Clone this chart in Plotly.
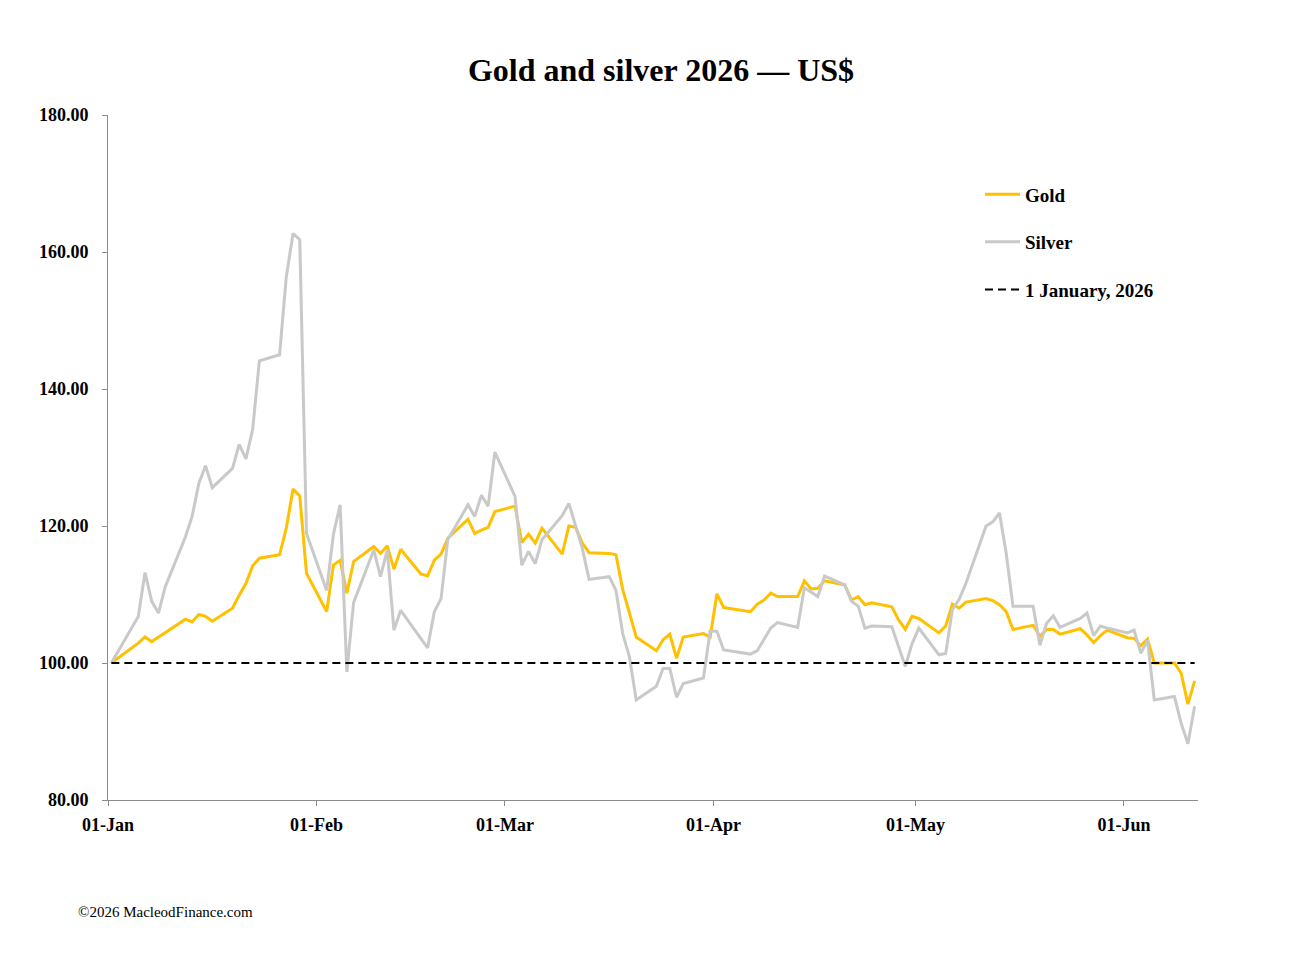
import plotly.graph_objects as go

FONT = "Liberation Serif"

dates = [
    "2026-01-01", "2026-01-05", "2026-01-06", "2026-01-07", "2026-01-08", "2026-01-09",
    "2026-01-12", "2026-01-13", "2026-01-14", "2026-01-15", "2026-01-16",
    "2026-01-19", "2026-01-20", "2026-01-21", "2026-01-22", "2026-01-23",
    "2026-01-26", "2026-01-27", "2026-01-28", "2026-01-29", "2026-01-30",
    "2026-02-02", "2026-02-03", "2026-02-04", "2026-02-05", "2026-02-06",
    "2026-02-09", "2026-02-10", "2026-02-11", "2026-02-12", "2026-02-13",
    "2026-02-16", "2026-02-17", "2026-02-18", "2026-02-19", "2026-02-20",
    "2026-02-23", "2026-02-24", "2026-02-25", "2026-02-26", "2026-02-27",
    "2026-03-02", "2026-03-03", "2026-03-04", "2026-03-05", "2026-03-06",
    "2026-03-09", "2026-03-10", "2026-03-11", "2026-03-12", "2026-03-13",
    "2026-03-16", "2026-03-17", "2026-03-18", "2026-03-19", "2026-03-20",
    "2026-03-23", "2026-03-24", "2026-03-25", "2026-03-26", "2026-03-27",
    "2026-03-30", "2026-03-31",
    "2026-04-01", "2026-04-02",
    "2026-04-06", "2026-04-07", "2026-04-08", "2026-04-09", "2026-04-10",
    "2026-04-13", "2026-04-14", "2026-04-15", "2026-04-16", "2026-04-17",
    "2026-04-20", "2026-04-21", "2026-04-22", "2026-04-23", "2026-04-24",
    "2026-04-27", "2026-04-28", "2026-04-29", "2026-04-30",
    "2026-05-01",
    "2026-05-04", "2026-05-05", "2026-05-06", "2026-05-07", "2026-05-08",
    "2026-05-11", "2026-05-12", "2026-05-13", "2026-05-14", "2026-05-15",
    "2026-05-18", "2026-05-19", "2026-05-20", "2026-05-21", "2026-05-22",
    "2026-05-25", "2026-05-26", "2026-05-27", "2026-05-28", "2026-05-29",
    "2026-06-01", "2026-06-02", "2026-06-03", "2026-06-04", "2026-06-05",
    "2026-06-08", "2026-06-09", "2026-06-10", "2026-06-11",
]

gold = [
    100.0, 102.9, 103.8, 103.1, 103.8, 104.4,
    106.4, 106.0, 107.1, 106.8, 106.1,
    108.0, 109.9, 111.6, 114.2, 115.3,
    115.8, 119.7, 125.4, 124.4, 113.1,
    107.5, 114.3, 115.0, 110.2, 114.8,
    117.0, 116.0, 117.1, 113.7, 116.6,
    113.0, 112.7, 115.0, 115.9, 118.2,
    121.0, 118.9, 119.4, 119.8, 122.1,
    122.9, 117.6, 118.8, 117.5, 119.7,
    115.9, 120.0, 119.8, 117.5, 116.1,
    116.0, 115.8, 110.7, 107.3, 103.8,
    101.8, 103.4, 104.2, 100.7, 103.8,
    104.3, 103.8,
    110.1, 108.1,
    107.5, 108.6, 109.2, 110.2, 109.7,
    109.7, 112.0, 110.8, 110.9, 112.0,
    111.4, 109.2, 109.7, 108.5, 108.8,
    108.2, 106.3, 104.9, 106.8,
    106.5,
    104.4, 105.4, 108.6, 108.0, 108.9,
    109.4, 109.1, 108.5, 107.5, 104.9,
    105.5, 103.9, 104.9, 104.9, 104.2,
    105.0, 104.1, 103.0, 104.0, 104.8,
    103.7, 103.6, 102.5, 103.5, 100.0,
    100.0, 98.5, 94.0, 97.4,
]

silver = [
    100.0, 106.8, 113.2, 109.0, 107.3, 111.1,
    118.4, 121.4, 126.2, 128.8, 125.6,
    128.4, 131.9, 129.8, 134.1, 144.1,
    145.0, 156.4, 162.7, 161.8, 118.9,
    110.6, 118.8, 123.1, 98.7, 108.8,
    116.5, 112.6, 116.5, 104.8, 107.7,
    103.6, 102.2, 107.5, 109.4, 118.0,
    123.1, 121.4, 124.5, 122.9, 130.8,
    124.3, 114.3, 116.3, 114.5, 118.0,
    121.5, 123.3, 119.9, 116.7, 112.2,
    112.6, 110.6, 104.3, 100.9, 94.6,
    96.6, 99.2, 99.2, 95.0, 97.0,
    97.8, 104.7,
    104.6, 101.9,
    101.3, 101.8, 103.4, 105.1, 105.9,
    105.2, 111.0, 110.3, 109.7, 112.7,
    111.4, 109.0, 108.3, 105.1, 105.4,
    105.3, 102.4, 99.5, 102.8,
    105.1,
    101.2, 101.4, 107.8, 109.3, 111.6,
    120.0, 120.6, 121.9, 116.0, 108.3,
    108.3, 102.6, 105.8, 106.9, 105.2,
    106.5, 107.3, 104.0, 105.4, 105.1,
    104.4, 104.8, 101.4, 103.3, 94.6,
    95.1, 91.2, 88.2, 93.7,
]

baseline = [100.0] * len(dates)

tick_dates = ["2026-01-01", "2026-02-01", "2026-03-01", "2026-04-01", "2026-05-01", "2026-06-01"]
tick_text = ["01-Jan", "01-Feb", "01-Mar", "01-Apr", "01-May", "01-Jun"]
y_ticks = [80, 100, 120, 140, 160, 180]

DAY_MS = 86400000

fig = go.Figure()
fig.add_trace(go.Scatter(
    x=dates, y=gold, name="Gold", mode="lines",
    line=dict(color="#FFC000", width=3),
    xperiod=DAY_MS, xperiodalignment="middle", legendgroup="g",
))
fig.add_trace(go.Scatter(
    x=dates, y=silver, name="Silver", mode="lines",
    line=dict(color="#C9C9C9", width=3),
    xperiod=DAY_MS, xperiodalignment="middle", legendgroup="s",
))
fig.add_trace(go.Scatter(
    x=dates, y=baseline, name="1 January, 2026", mode="lines",
    line=dict(color="#000000", width=2, dash="8px,5px"),
    xperiod=DAY_MS, xperiodalignment="middle", legendgroup="b",
))

fig.update_layout(
    width=1298, height=958,
    margin=dict(l=108, r=100, t=115, b=158, pad=0),
    paper_bgcolor="white", plot_bgcolor="white",
    font=dict(family=FONT, color="#000000"),
    title=dict(
        text="<b>Gold and silver 2026 — US$</b>",
        x=661 / 1298, xref="container", xanchor="center",
        y=1 - 70 / 958, yref="container", yanchor="middle",
        font=dict(family=FONT, size=32, color="#000000"),
    ),
    showlegend=True,
    legend=dict(
        x=0.8, xanchor="left", y=0.912, yanchor="top",
        font=dict(family=FONT, size=19, color="#000000", weight="bold"),
        tracegroupgap=20, bgcolor="rgba(0,0,0,0)",
        traceorder="grouped", itemwidth=35,
    ),
    xaxis=dict(
        type="date",
        range=["2026-01-01", "2026-06-12"],
        tickmode="array", tickvals=tick_dates, ticktext=tick_text,
        showgrid=False, zeroline=False,
        showline=True, linecolor="#8C8C8C", linewidth=1,
        ticks="outside", ticklen=5, tickcolor="#8C8C8C",
        ticklabelstandoff=3,
        tickfont=dict(family=FONT, size=18, color="#000000", weight="bold"),
    ),
    yaxis=dict(
        range=[80, 180],
        tickmode="array", tickvals=y_ticks,
        tickformat=".2f",
        showgrid=False, zeroline=False,
        showline=True, linecolor="#8C8C8C", linewidth=1,
        ticks="outside", ticklen=5, tickcolor="#8C8C8C",
        ticklabelstandoff=10,
        tickfont=dict(family=FONT, size=18, color="#000000", weight="bold"),
    ),
)

fig.add_annotation(
    text="©2026 MacleodFinance.com",
    xref="paper", yref="paper",
    x=(76 - 108) / 1090, y=(800 - 912) / 685,
    xanchor="left", yanchor="middle",
    showarrow=False,
    font=dict(family=FONT, size=15, color="#000000"),
)

fig.write_html("out.html")
